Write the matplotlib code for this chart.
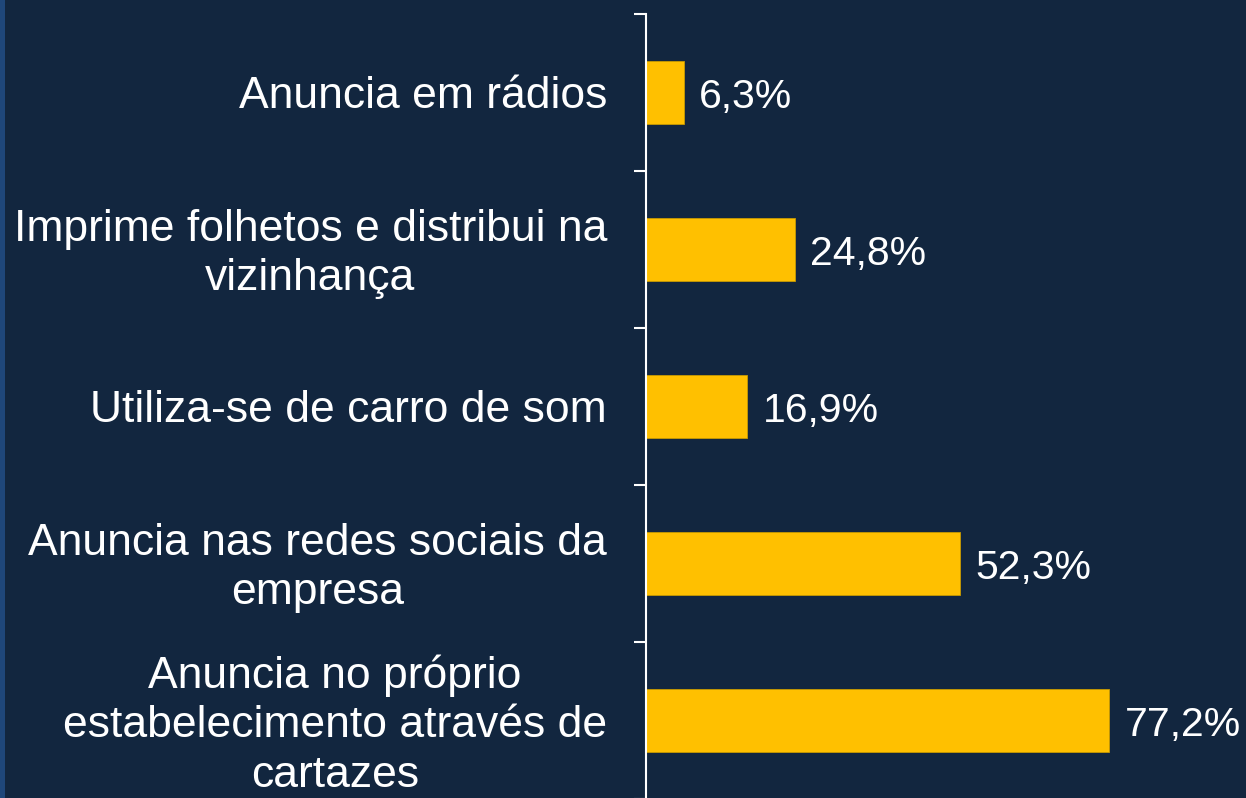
import matplotlib.pyplot as plt
from matplotlib.patches import Rectangle
from matplotlib.transforms import ScaledTranslation
import numpy as np

plt.rcParams['font.family'] = ['Liberation Sans', 'DejaVu Sans']

# Data (top to bottom as shown)
categories = [
    'Anuncia em rádios',
    'Imprime folhetos e distribui na\nvizinhança',
    'Utiliza-se de carro de som',
    'Anuncia nas redes sociais da\nempresa',
    'Anuncia no próprio\nestabelecimento através de\ncartazes',
]
values = [6.3, 24.8, 16.9, 52.3, 77.2]
value_labels = ['6,3%', '24,8%', '16,9%', '52,3%', '77,2%']

bg = '#12263F'
bar_color = '#FFC000'

fig = plt.figure(figsize=(12.46, 7.98), dpi=100, facecolor=bg)
# lighter strip on the left edge
fig.patches.append(Rectangle((0, 0), 5 / 1246, 1, transform=fig.transFigure,
                             facecolor='#1F477A', edgecolor='none'))

ax = fig.add_axes([646 / 1246, 1 - 799 / 798, 600 / 1246, 785 / 798])
ax.set_facecolor(bg)

y = np.arange(len(categories))
ax.barh(y, values, height=0.4, color=bar_color, edgecolor='#C89A00', linewidth=0.6)

for yi, v, lab in zip(y, values, value_labels):
    ax.annotate(lab, (v, yi), xytext=(11, -3), textcoords='offset points',
                va='center', ha='left', color='white', fontsize=29.5)

ax.set_xlim(0, 100)
ax.set_ylim(len(categories) - 0.5, -0.5)

ax.set_yticks(y)
ax.set_yticklabels(categories, fontsize=32, color='white',
                   multialignment='center', linespacing=1.26)
ax.tick_params(axis='y', which='major', length=0, pad=28)
ax.set_yticks(np.arange(len(categories) + 1) - 0.5, minor=True)
ax.tick_params(axis='y', which='minor', length=9, width=1.5, color='white')

# multi-line labels sit a little higher in the original
shift = ScaledTranslation(0, 4 / 100, fig.dpi_scale_trans)
for lbl in ax.get_yticklabels():
    if '\n' in lbl.get_text():
        lbl.set_transform(lbl.get_transform() + shift)

ax.set_xticks([])
for s in ['top', 'right', 'bottom']:
    ax.spines[s].set_visible(False)
ax.spines['left'].set_color('white')
ax.spines['left'].set_linewidth(1.5)

fig.savefig('out.png', dpi=100, facecolor=bg)
